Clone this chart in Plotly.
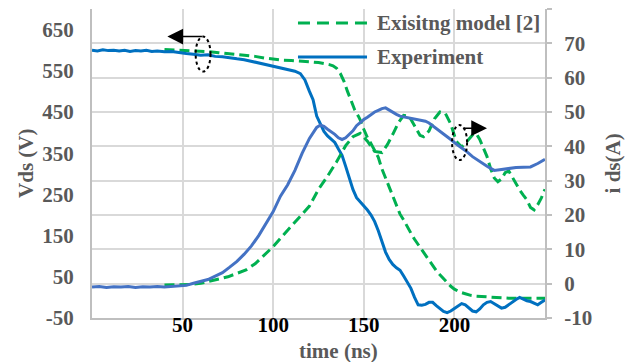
import plotly.graph_objects as go

# ---------------- data ----------------
exp_vds_t = [0, 3, 6, 9, 12, 15, 18, 21, 24, 27, 30, 33, 36, 40, 44, 48, 52, 56, 60, 64, 68, 72, 76, 80,
             84, 88, 92, 96, 100, 104, 108, 112, 115, 117.5, 120, 122, 124, 126, 128, 130, 132, 134, 136,
             138, 140, 142, 144, 146, 148, 150, 152, 154, 156, 158, 160, 162, 164, 166, 168, 170, 172,
             174, 176, 178, 180, 182, 184, 186, 188, 190, 192, 194, 196, 198, 200, 202, 204, 206, 208,
             210, 212, 214, 216, 218, 220, 222, 224, 226, 228, 230, 232, 234, 236, 238, 240, 242, 244,
             246, 248, 250]
exp_vds = [600, 598, 601, 599, 600, 598, 600, 597, 599, 598, 600, 597, 598, 596, 597, 594, 592, 590, 588,
           589, 585, 584, 581, 579, 577, 573, 570, 566, 562, 557, 553, 549, 543, 528, 500, 480, 440, 420,
           403, 392, 384, 376, 360, 345, 318, 292, 262, 242, 232, 224, 212, 200, 184, 162, 136, 110, 92,
           80, 72, 66, 52, 36, 22, 0, -18, -19, -17, -12, -12, -20, -28, -34, -37, -33, -27, -20, -15,
           -18, -26, -33, -35, -28, -18, -12, -10, -15, -21, -26, -24, -17, -12, -5, 0, -4, -8, -10,
           -14, -18, -12, -6]

exp_id_t = [0, 4, 8, 12, 16, 20, 24, 28, 32, 36, 40, 44, 48, 52, 56, 60, 64, 68, 72, 76, 80, 84, 88, 92,
            96, 100, 104, 108, 112, 116, 120, 122, 124, 126, 128, 130, 132, 134, 136, 138, 140, 142, 144,
            146, 148, 150, 152, 154, 156, 158, 160, 162, 164, 166, 168, 170, 172, 176, 180, 184, 186, 188,
            190, 194, 198, 202, 206, 210, 214, 218, 222, 226, 230, 234, 238, 242, 246, 250]
exp_id = [-1.0, -0.8, -1.1, -0.9, -1.0, -0.8, -1.1, -0.9, -1.0, -0.8, -1.0, -0.9, -0.7, -0.5, 0.1, 0.6,
          1.2, 2.2, 3.2, 4.8, 6.5, 8.6, 11.0, 14.0, 17.5, 21.0, 25.5, 28.8, 33.0, 38.0, 42.3, 44.0, 45.5,
          46.2, 45.8, 45.0, 44.3, 43.5, 42.5, 42.0, 42.5, 43.5, 44.5, 46.0, 47.0, 47.8, 48.5, 49.3, 50.0,
          50.5, 51.0, 51.2, 50.5, 49.8, 49.3, 48.8, 48.6, 48.3, 47.8, 47.3, 46.8, 46.0, 45.3, 43.8, 42.0,
          40.3, 38.8, 37.0, 35.5, 34.2, 33.0, 33.3, 33.6, 33.8, 33.9, 34.0, 35.0, 36.2]

mod_vds_t = [40, 45, 50, 55, 60, 65, 70, 75, 80, 85, 90, 95, 100, 105, 110, 115, 120, 125, 128, 131, 133,
             135, 137, 139, 141, 143, 145, 147, 148, 150, 152, 154, 156, 158, 160, 162, 164, 166, 168,
             170, 172, 174, 176, 178, 180, 182, 184, 186, 188, 190, 192, 194, 196, 198, 200, 203, 206,
             209, 212, 216, 220, 225, 230, 240, 250]
mod_vds = [602, 601, 600, 599, 598, 596, 594, 592, 590, 588, 585, 581, 578, 576, 575, 574, 572, 570, 568,
           565, 562, 556, 544, 525, 500, 478, 455, 440, 431, 408, 388, 373, 358, 340, 312, 290, 268, 245,
           222, 202, 188, 170, 156, 141, 128, 115, 101, 88, 76, 65, 55, 45, 35, 27, 20, 13, 9, 5, 3, 2,
           1, -1, -2, -2, -2]

mod_id_t = [40, 45, 50, 55, 60, 65, 70, 75, 80, 85, 90, 95, 100, 105, 110, 115, 120, 125, 130, 135, 140,
            144, 148, 152, 156, 160, 163, 166, 169, 172, 175, 178, 181, 183, 186, 189, 192, 195, 198, 201,
            204, 207, 210, 212, 214, 216, 218, 220, 222, 224, 226, 228, 230, 232, 234, 236, 238, 240, 242,
            244, 246, 248, 250]
mod_id = [-0.4, -0.4, -0.4, -0.2, 0.1, 0.7, 1.4, 2.0, 3.0, 4.0, 5.8, 8.2, 10.8, 13.8, 16.8, 19.8, 22.6,
          27.5, 31.3, 35.5, 40.2, 42.8, 43.8, 41.5, 38.5, 38.2, 40.5, 43.5, 46.8, 49.0, 48.8, 46.0, 43.2,
          42.8, 44.5, 48.0, 50.0, 49.6, 46.5, 41.5, 39.8, 41.5, 43.3, 43.8, 42.0, 39.5, 37.0, 33.5, 30.8,
          29.7, 30.5, 32.3, 32.8, 31.0, 29.0, 27.3, 25.8, 24.4, 22.2, 21.5, 23.0, 25.0, 27.5]

x_ticks = [50, 100, 150, 200]
vds_ticks = [-50, 50, 150, 250, 350, 450, 550, 650]
vds_labels = ["-50", "50", "150", "250", "350", "450", "550", "650"]
id_ticks = [-10, 0, 10, 20, 30, 40, 50, 60, 70, 80]
id_labels = ["-10", "0", "10", "20", "30", "40", "50", "60", "70", "80"]

legend_labels = ["Exisitng model [2]", "Experiment"]

# ---------------- style ----------------
C_VDS = "#0070C0"
C_ID = "#4472C4"
C_MOD = "#00B050"
GRID = "#D9D9D9"
AXL = "#BFBFBF"
GRAY = "#595959"
FONT = "Liberation Serif"

fig = go.Figure()
fig.add_trace(go.Scatter(x=mod_id_t, y=mod_id, mode="lines", yaxis="y2",
                         line=dict(color=C_MOD, width=3, dash="10px,5px"), showlegend=False))
fig.add_trace(go.Scatter(x=exp_id_t, y=exp_id, mode="lines", yaxis="y2",
                         line=dict(color=C_ID, width=3), showlegend=False))
fig.add_trace(go.Scatter(x=mod_vds_t, y=mod_vds, mode="lines", yaxis="y",
                         line=dict(color=C_MOD, width=3, dash="10px,5px"), showlegend=False))
fig.add_trace(go.Scatter(x=exp_vds_t, y=exp_vds, mode="lines", yaxis="y",
                         line=dict(color=C_VDS, width=3), showlegend=False))

tickf_gray = dict(family=FONT, size=21, color=GRAY, weight="bold")
tickf_black = dict(family=FONT, size=21, color="black", weight="bold")

fig.update_layout(
    width=642, height=362,
    margin=dict(l=92, r=97, t=9, b=44),
    paper_bgcolor="white", plot_bgcolor="white",
    showlegend=False,
    xaxis=dict(range=[0, 250], tickvals=x_ticks, showgrid=True, gridcolor=GRID, gridwidth=2,
               showline=True, linecolor=AXL, linewidth=2, mirror=False, zeroline=False,
               ticks="", tickfont=tickf_black, ticklabelstandoff=-13),
    yaxis=dict(range=[-50, 700], tickvals=vds_ticks, ticktext=vds_labels, showgrid=False,
               zeroline=False, showline=True, linecolor=AXL, linewidth=2, ticks="",
               tickfont=tickf_gray, ticklabelstandoff=12),
    yaxis2=dict(range=[-10, 80], tickvals=id_ticks, ticktext=id_labels, overlaying="y", side="right",
                showgrid=True, gridcolor=GRID, gridwidth=2, zeroline=False,
                showline=True, linecolor=AXL, linewidth=2, ticks="outside", ticklen=5,
                tickcolor=AXL, tickwidth=2, tickfont=tickf_gray, ticklabelstandoff=8),
)

# axis titles
tf = dict(family=FONT, size=21, color=GRAY, weight="bold")
fig.add_annotation(text="Vds (V)", xref="paper", yref="paper", x=-0.147, y=0.5,
                   textangle=-90, showarrow=False, font=tf, xanchor="center", yanchor="middle")
fig.add_annotation(text="i ds(A)", xref="paper", yref="paper", x=1.150, y=0.5,
                   textangle=-90, showarrow=False, font=tf, xanchor="center", yanchor="middle")
fig.add_annotation(text="time (ns)", xref="paper", yref="paper", x=0.545, y=-0.108,
                   showarrow=False, font=tf, xanchor="center", yanchor="middle")

# legend (drawn manually to match the long sample lines)
fig.add_shape(type="line", xref="paper", yref="paper", x0=0.4547, x1=0.6071, y0=0.9547, y1=0.9547,
              line=dict(color=C_MOD, width=3, dash="12px,7px"))
fig.add_shape(type="line", xref="paper", yref="paper", x0=0.4547, x1=0.6071, y0=0.8447, y1=0.8447,
              line=dict(color=C_VDS, width=3))
fig.add_annotation(text=legend_labels[0], xref="paper", yref="paper", x=0.6247, y=0.9547,
                   showarrow=False, font=tf, xanchor="left", yanchor="middle")
fig.add_annotation(text=legend_labels[1], xref="paper", yref="paper", x=0.6247, y=0.8447,
                   showarrow=False, font=tf, xanchor="left", yanchor="middle")

# arrows + dotted ellipses marking which axis each set of curves uses
fig.add_annotation(x=41.6, y=633, ax=61.5, ay=633, xref="x", yref="y", axref="x", ayref="y",
                   text="", showarrow=True, arrowhead=2, arrowsize=2.1, arrowwidth=1.5,
                   arrowcolor="black")
fig.add_annotation(x=218.0, y=45.3, ax=204.2, ay=45.3, xref="x", yref="y2", axref="x", ayref="y2",
                   text="", showarrow=True, arrowhead=2, arrowsize=2.1, arrowwidth=1.5,
                   arrowcolor="black")
fig.add_shape(type="circle", xref="x", yref="y", x0=57.2, x1=65.4, y0=548, y1=633,
              line=dict(color="black", width=2, dash="dot"))
fig.add_shape(type="circle", xref="x", yref="y2", x0=198.7, x1=207.0, y0=36.0, y1=46.2,
              line=dict(color="black", width=2, dash="dot"))

fig.write_html("out.html")
